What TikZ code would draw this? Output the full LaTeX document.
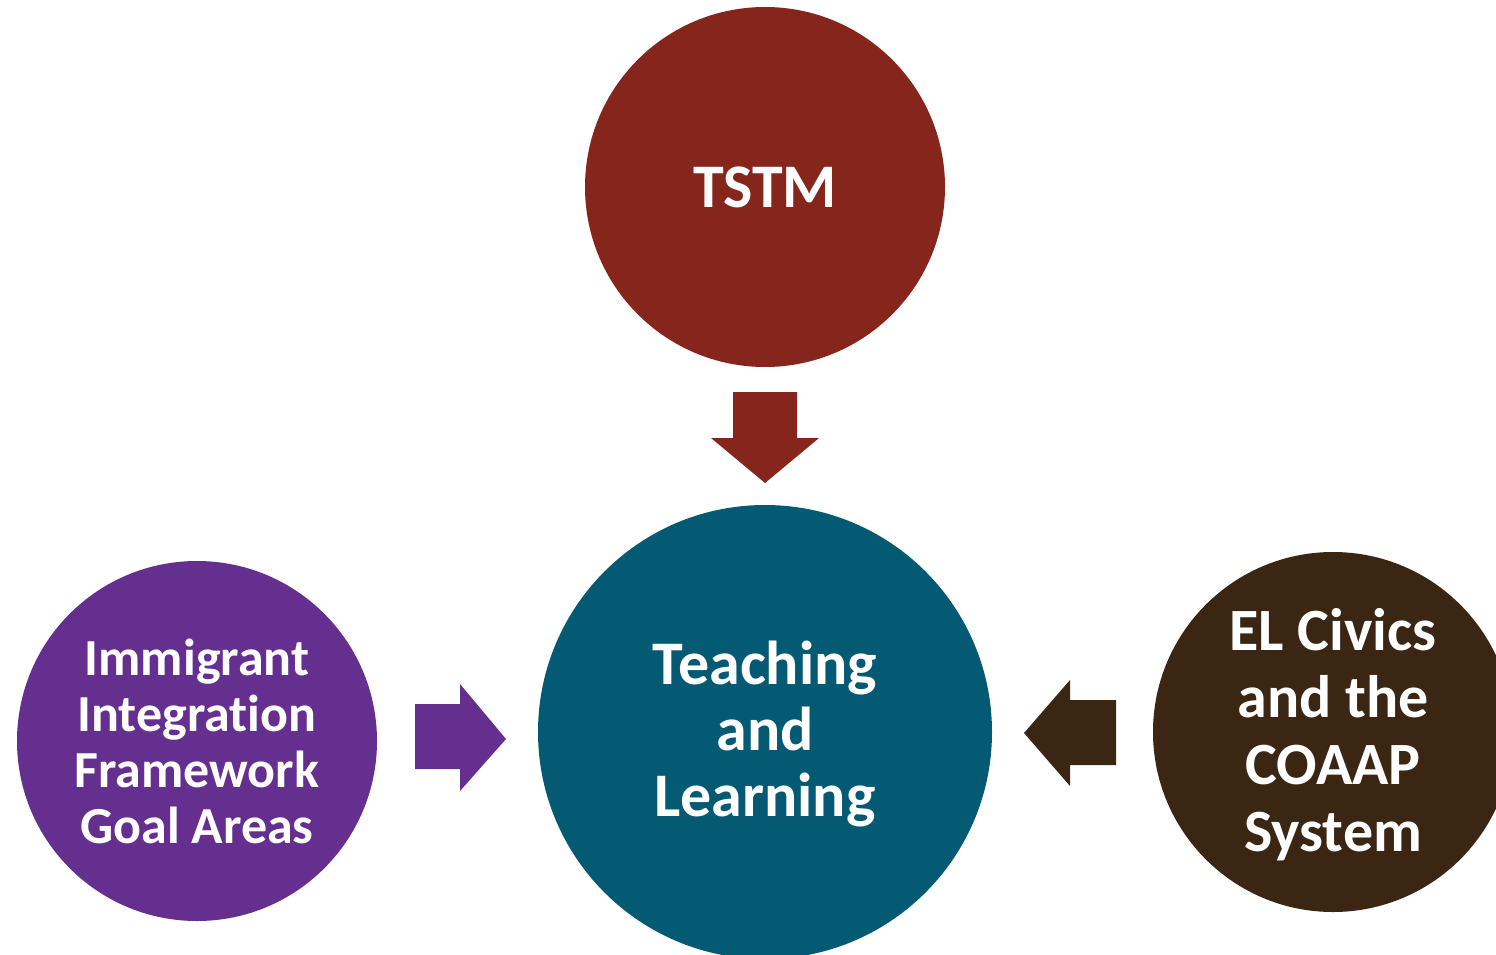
\documentclass[tikz,border=0pt]{standalone}
\usepackage{fontspec}
\setmainfont{Carlito}[Ligatures=NoCommon]
\definecolor{tstmred}{HTML}{86251C}
\definecolor{teal}{HTML}{055A73}
\definecolor{iifpurple}{HTML}{652F8F}
\definecolor{civbrown}{HTML}{3A2613}
\begin{document}
\begin{tikzpicture}[x=1pt,y=-1pt,
  hub/.style={circle,draw=none,inner sep=0pt,text=white,align=center,font=\bfseries}]
\useasboundingbox (0,0) rectangle (1496,955);
\clip (0,0) rectangle (1496,955);
% circles
\node[hub,fill=tstmred,minimum size=360pt,font=\bfseries\fontsize{62}{62}\selectfont] (tstm) at (765,187) {TSTM};
\node[hub,fill=teal,minimum size=454pt] (tl) at (765,732) {};
\node[text=white,align=center,font=\bfseries\fontsize{62}{66}\selectfont] (tltext) at (765,734) {Teaching\\and\\Learning};
\node[hub,fill=iifpurple,minimum size=360pt,font=\bfseries\fontsize{52}{56}\selectfont] (iif) at (197,741) {Immigrant\\Integration\\Framework\\Goal Areas};
\node[hub,fill=civbrown,minimum size=360pt] (civ) at (1333,732) {};
\node[text=white,align=center,font=\bfseries\fontsize{60}{67}\selectfont] (civtext) at (1333,735) {EL Civics\\and the\\COAAP\\System};
% block arrows
\fill[tstmred] (733,392) -- (797,392) -- (797,438) -- (819,438) -- (765,483) -- (711,438) -- (733,438) -- cycle;
\fill[iifpurple] (415,704) -- (460,704) -- (460,684) -- (506,739) -- (460,791) -- (460,769) -- (415,769) -- cycle;
\fill[civbrown] (1116,700) -- (1070,700) -- (1070,680) -- (1024,733) -- (1070,786) -- (1070,765) -- (1116,765) -- cycle;
\end{tikzpicture}
\end{document}
